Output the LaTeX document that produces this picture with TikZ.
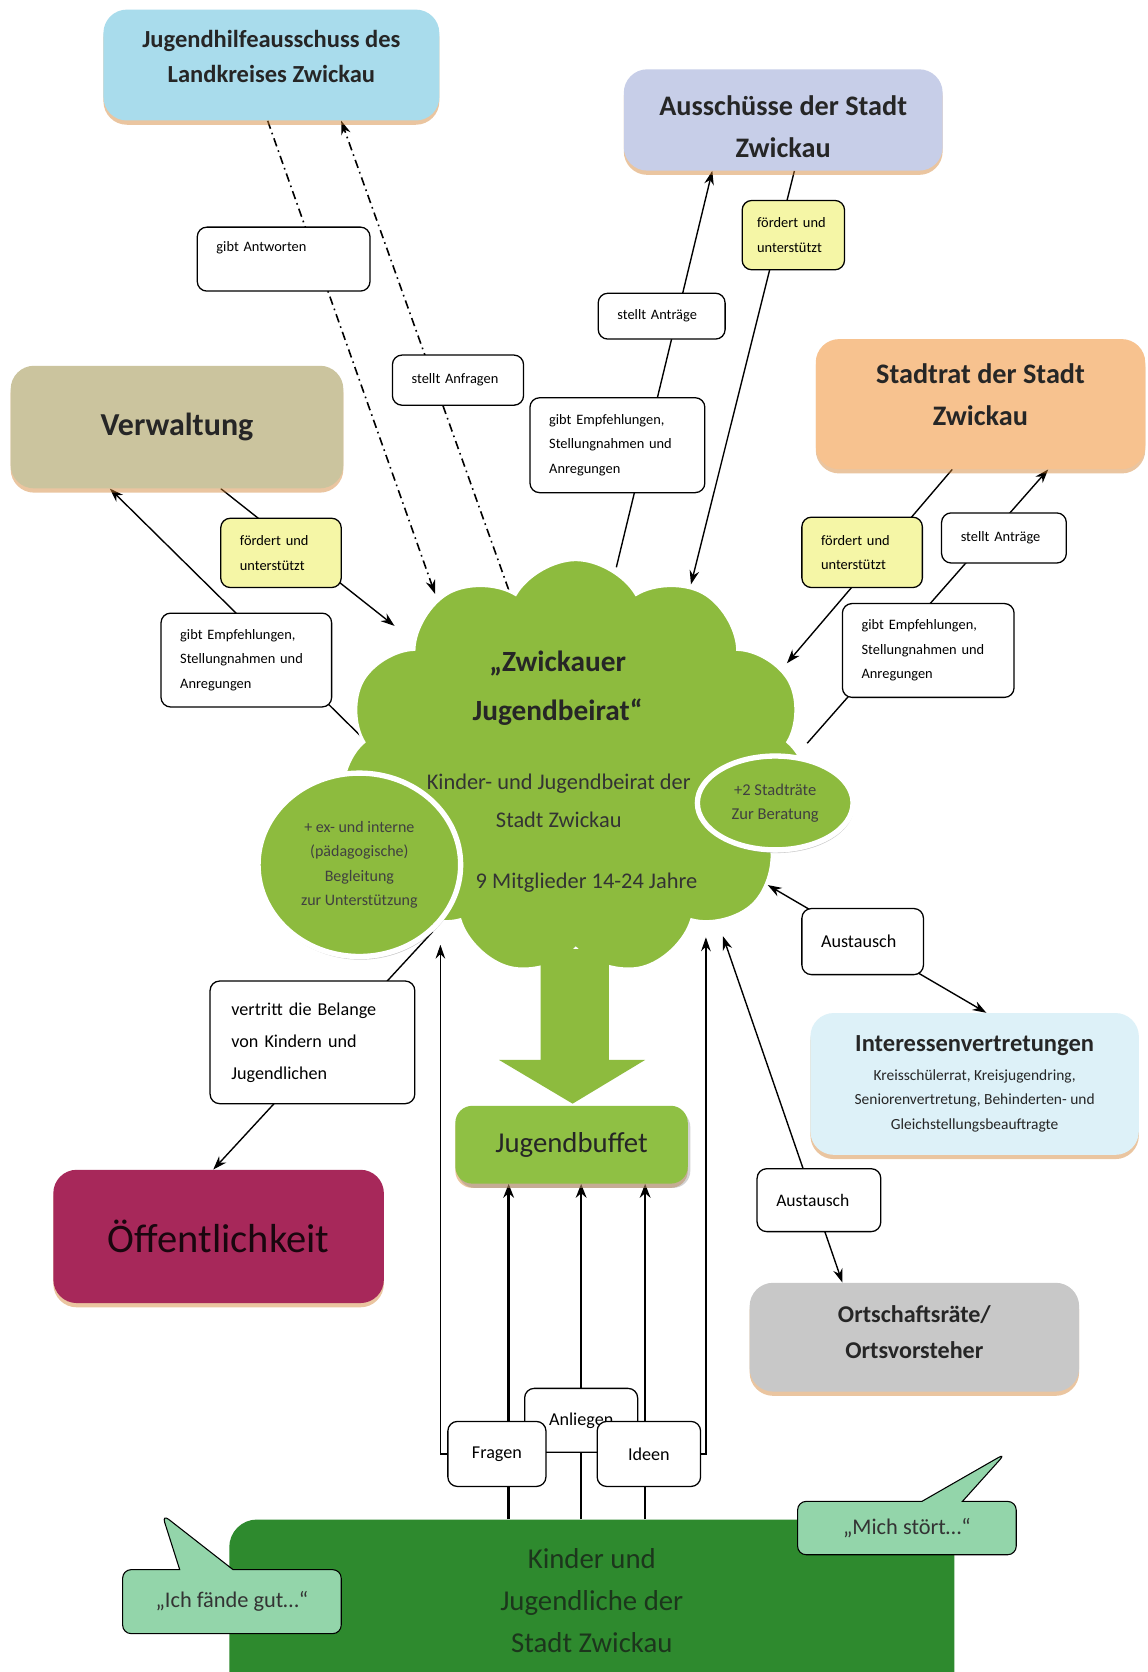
\documentclass[tikz,border=0pt]{standalone}
\usepackage{fontspec}
\setmainfont{Carlito}
\usepackage{tikz}
\usetikzlibrary{arrows.meta}
\usetikzlibrary{shapes.symbols,shapes.geometric,shapes.callouts,shadows}
\definecolor{jhablue}{HTML}{A9DCEC}
\definecolor{auslila}{HTML}{C7CEE8}
\definecolor{ratorange}{HTML}{F7C28F}
\definecolor{verwkhaki}{HTML}{CBC49E}
\definecolor{beiratgreen}{HTML}{8DBB3E}
\definecolor{buffetgreen}{HTML}{8FC044}
\definecolor{oeffred}{HTML}{A7285A}
\definecolor{intvblue}{HTML}{DDF1F8}
\definecolor{ortsgrey}{HTML}{C8C8C8}
\definecolor{kindgreen}{HTML}{2E8A2E}
\definecolor{kindtext}{HTML}{1C361C}
\definecolor{bubblegreen}{HTML}{93D5AA}
\definecolor{fordyellow}{HTML}{F5F6A6}
\pgfdeclarelayer{bg}
\pgfsetlayers{bg,main}

\begin{document}
\begin{tikzpicture}[x=1pt,y=-1pt,
    lbl/.style={draw,fill=white,rounded corners=9,line width=1.2,align=left,inner xsep=18,inner ysep=0,font=\fontsize{13.5}{23}\selectfont}]
    \tikzstyle{bigbox} = [rounded corners=22, align=center, text=black!85, drop shadow={shadow xshift=0pt,shadow yshift=-4pt,fill=brown!70!orange,opacity=.45}]
    \tikzstyle{blase} = [ellipse, fill=beiratgreen, draw=white, line width=5, inner sep=0, align=center, text=black!75, drop shadow={shadow xshift=1pt,shadow yshift=-3pt,fill=gray,opacity=.4}]
    \tikzstyle{arr} = [-{Stealth[length=13pt,width=9pt]}, line width=1.3]
    \tikzstyle{dasharr} = [arr, line width=1.5, dash pattern=on 8pt off 4pt on 1.5pt off 4pt]
    \tikzstyle{austarr} = [{Stealth[length=13pt,width=9pt]}-{Stealth[length=13pt,width=9pt]}, line width=1.3]
    \tikzstyle{bufarr} = [-{Stealth[length=13pt,width=10pt]}, line width=2.2]
    \tikzstyle{sprech} = [rectangle callout, fill=bubblegreen, draw, line width=1, rounded corners=8, font=\fontsize{21}{25}\selectfont, text=black!80]
    \useasboundingbox (0,0) rectangle (1076,1568);
        %%% Gremien %%%
        \node[bigbox, fill=jhablue, minimum width=315, minimum height=104, font=\fontsize{23}{33}\selectfont\bfseries] (jha) at (254.5,61) {Jugendhilfeausschuss des\\Landkreises Zwickau\rule[-16pt]{0pt}{0pt}};
        \node[bigbox, fill=auslila, minimum width=299, minimum height=95, font=\fontsize{26.5}{39}\selectfont\bfseries] (aus) at (734.5,112.5) {\rule{0pt}{31pt}Ausschüsse der Stadt\\Zwickau};
        \node[bigbox, fill=ratorange, minimum width=309, minimum height=122, font=\fontsize{26.5}{39}\selectfont\bfseries] (srat) at (919.5,379) {Stadtrat der Stadt\\Zwickau\rule[-18pt]{0pt}{0pt}};
        \node[bigbox, fill=verwkhaki, minimum width=312, minimum height=115, font=\fontsize{30}{36}\selectfont\bfseries] (verw) at (166,400.5) {Verwaltung};
        %%% Beirat %%%
        \node[cloud, cloud puffs=11, cloud puff arc=120, cloud ignores aspect, minimum width=440, minimum height=390, fill=beiratgreen, draw=white, line width=2.5] (beirat) at (540,720) {};
        \fill[beiratgreen] (507,890) -- (571,890) -- (571,994) -- (605,994) -- (537,1035) -- (468,994) -- (507,994) -- cycle;
        \node[font=\fontsize{27.5}{46}\selectfont\bfseries, align=center, text=black!85] (titel) at (523,645) {„Zwickauer\\Jugendbeirat“};
        \node[font=\fontsize{21}{36}\selectfont, align=center, text=black!80] (kjb) at (524,751) {Kinder- und Jugendbeirat der\\Stadt Zwickau};
        \node[font=\fontsize{21}{25}\selectfont, text=black!80] (mitgl) at (550,828) {9 Mitglieder 14-24 Jahre};
        \node[blase, minimum width=190, minimum height=172, font=\fontsize{15}{23}\selectfont] (ell1) at (337,811) {+ ex- und interne\\(pädagogische)\\Begleitung\\zur Unterstützung};
        \node[blase, minimum width=146, minimum height=88, font=\fontsize{15.5}{23}\selectfont] (ell2) at (727,753) {+2 Stadträte\\Zur Beratung};
        %%% Andockpunkte am Beirat
        \coordinate (bAntw) at (408,557);
        \coordinate (bAnfr) at (477,553);
        \coordinate (bAntr) at (578,532);
        \coordinate (bFordA) at (648,548);
        \coordinate (bEmpfV) at (338,690);
        \coordinate (bFordV) at (370,587);
        \coordinate (bFordS) at (738,622);
        \coordinate (bEmpfS) at (757,697);
        \coordinate (bAustI) at (720,830);
        \coordinate (bAustO) at (678,878);
        \coordinate (bFragen) at (413,886);
        \coordinate (bIdeen) at (662,879);
        %%% Buffet, Oeffentlichkeit, Partner %%%
        \node[bigbox, fill=buffetgreen, rounded corners=16, minimum width=218, minimum height=73, font=\fontsize{27}{30}\selectfont, drop shadow={shadow yshift=-4pt,fill=gray,opacity=.35}] (buffet) at (536,1073.5) {Jugendbuffet};
        \node[bigbox, fill=oeffred, minimum width=310, minimum height=125, font=\fontsize{38}{40}\selectfont, text=black!85!oeffred] (oeff) at (205,1159.5) {Öffentlichkeit};
        \node[bigbox, fill=intvblue, minimum width=308, minimum height=133, font=\fontsize{14.5}{23}\selectfont] (intv) at (914,1016.5) {{\fontsize{23}{23}\selectfont\bfseries Interessenvertretungen}\\[4pt]Kreisschülerrat, Kreisjugendring,\\Seniorenvertretung, Behinderten- und\\Gleichstellungsbeauftragte};
        \node[bigbox, fill=ortsgrey, minimum width=309, minimum height=102, font=\fontsize{22.6}{34}\selectfont\bfseries] (orts) at (857.5,1254) {Ortschaftsräte/\\Ortsvorsteher\rule[-10pt]{0pt}{0pt}};
        %%% Kinder und Jugendliche %%%
        \node[fill=kindgreen, rounded corners=26, minimum width=680, minimum height=200] (kinder) at (555,1525) {};
        \node[font=\fontsize{27}{39}\selectfont, align=center, text=kindtext] (kindertext) at (555,1501) {Kinder und\\Jugendliche der\\Stadt Zwickau};
        \node[sprech, callout absolute pointer={(152,1420)}, callout pointer width=50, minimum width=205, minimum height=60] (bubL) at (217.5,1502) {„Ich fände gut…“};
        \node[sprech, callout absolute pointer={(943,1363)}, callout pointer width=38, minimum width=205, minimum height=50] (bubR) at (850.5,1433) {„Mich stört…“};
        %%% labels
        \node[lbl, text width=126, minimum height=60] (antw) at (266,243) {gibt Antworten\\\mbox{}};
        \node[lbl, text width=87, minimum height=47] (anfr) at (429.5,356.5) {stellt Anfragen};
        \node[lbl, text width=83, minimum height=43] (antrA) at (620.5,296.5) {stellt Anträge};
        \node[lbl, text width=128, minimum height=89] (empfA) at (579,417.5) {gibt Empfehlungen,\\Stellungnahmen und\\Anregungen};
        \node[lbl, fill=fordyellow, inner xsep=14, text width=68, minimum height=65] (fordA) at (744,220.5) {fördert und\\unterstützt};
        \node[lbl, fill=fordyellow, text width=77, minimum height=65] (fordV) at (263.5,518.5) {fördert und\\unterstützt};
        \node[lbl, text width=124, minimum height=88] (empfV) at (231,619) {gibt Empfehlungen,\\Stellungnahmen und\\Anregungen};
        \node[lbl, fill=fordyellow, text width=77, minimum height=66] (fordS) at (808.5,518) {fördert und\\unterstützt};
        \node[lbl, text width=81, minimum height=47] (antrS) at (941.5,504.5) {stellt Anträge};
        \node[lbl, text width=125, minimum height=88] (empfS) at (870.5,610) {gibt Empfehlungen,\\Stellungnahmen und\\Anregungen};
        \node[lbl, text width=78, minimum height=62, font=\fontsize{17}{23}\selectfont] (austI) at (809,883) {Austausch};
        \node[lbl, text width=80, minimum height=59, font=\fontsize{16.5}{23}\selectfont] (austO) at (768,1125.5) {Austausch};
        \node[lbl, inner xsep=20, text width=152, minimum height=115, font=\fontsize{17}{30}\selectfont] (vertr) at (293,977.5) {vertritt die Belange\\von Kindern und\\Jugendlichen};
        \node[lbl, inner xsep=0, minimum width=106, minimum height=60, font=\fontsize{17}{20}\selectfont] (anlieg) at (545,1332) {Anliegen};
        \node[lbl, inner xsep=0, minimum width=92, minimum height=61, font=\fontsize{17}{20}\selectfont] (fragen) at (466,1363.5) {Fragen};
        \node[lbl, inner xsep=0, minimum width=97, minimum height=61, font=\fontsize{17}{20}\selectfont] (ideen) at (608.5,1363.5) {Ideen};
        %%% connections
        \begin{pgfonlayer}{bg}
        \fill[white] (0,0) rectangle (1076,1568);
        \draw[dasharr] ([xshift=-3.5]jha.south) -- (bAntw);
        \draw[dasharr] (bAnfr) -- ([xshift=65.5]jha.south);
        \draw[arr] (bAntr) -- ([xshift=-66.5]aus.south);
        \draw[arr] ([xshift=10.5]aus.south) -- (bFordA);
        \draw[arr] (bEmpfV) -- ([xshift=-63]verw.south);
        \draw[arr] ([xshift=41]verw.south) -- (bFordV);
        \draw[arr] ([xshift=-26.5]srat.south) -- (bFordS);
        \draw[arr] (bEmpfS) -- ([xshift=63.5]srat.south);
        \draw[austarr] (bAustI) -- ([xshift=11]intv.north);
        \draw[austarr] (bAustO) -- ([xshift=-67.5]orts.north);
        \draw[arr] (ell1.south east) -- ([xshift=-5]oeff.north);
        \draw[bufarr] ([xshift=-78]kinder.north) -- ([xshift=-59]buffet.south);
        \draw[bufarr] ([xshift=-10]kinder.north) -- ([xshift=9]buffet.south);
        \draw[bufarr] ([xshift=50]kinder.north) -- ([xshift=69]buffet.south);
        \draw[arr] (fragen.west) -| (bFragen);
        \draw[arr] (ideen.east) -| (bIdeen);
        \end{pgfonlayer}
\end{tikzpicture}
\end{document}
